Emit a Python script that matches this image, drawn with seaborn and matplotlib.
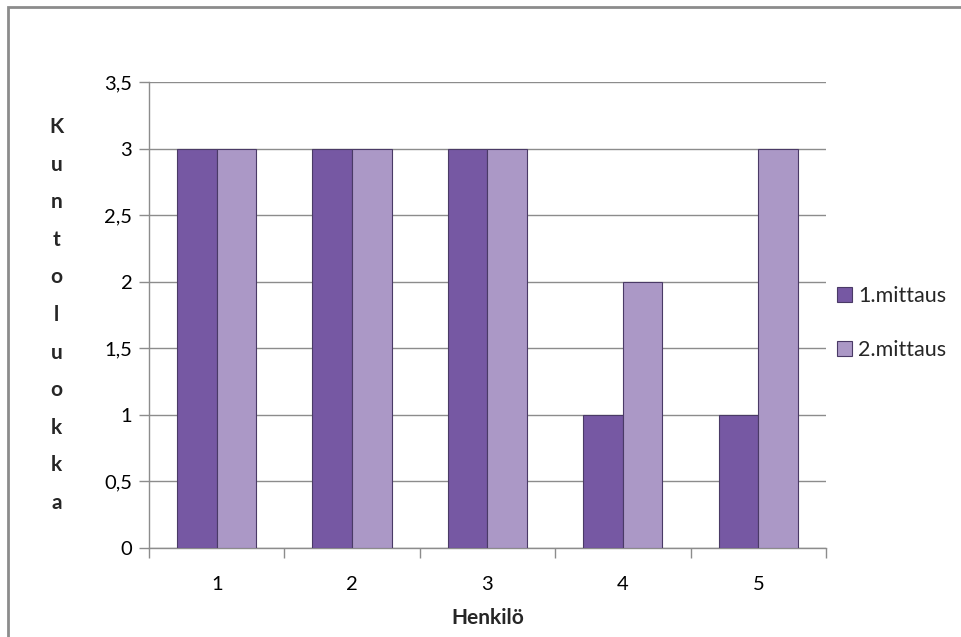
import matplotlib
matplotlib.use("Agg")
import matplotlib.pyplot as plt
import seaborn as sns
import pandas as pd
from matplotlib.ticker import FixedLocator, FuncFormatter
from matplotlib.patches import Rectangle

persons = ["1", "2", "3", "4", "5"]
series_names = ["1.mittaus", "2.mittaus"]
mittaus1 = [3, 3, 3, 1, 1]
mittaus2 = [3, 3, 3, 2, 3]
y_ticks = [0, 0.5, 1, 1.5, 2, 2.5, 3, 3.5]

df = pd.DataFrame({
    "Henkilö": persons * 2,
    "Kuntoluokka": mittaus1 + mittaus2,
    "Sarja": [series_names[0]] * 5 + [series_names[1]] * 5,
})

sns.set_theme(style="white")
plt.rcParams['font.family'] = ['Lato', 'DejaVu Sans']

fig = plt.figure(figsize=(9.62, 6.37), dpi=100)
ax = fig.add_axes([0.1549, 0.1397, 0.8586 - 0.1549, 0.8713 - 0.1397])

palette = {series_names[0]: "#7658a3", series_names[1]: "#ab98c6"}
sns.barplot(data=df, x="Henkilö", y="Kuntoluokka", hue="Sarja", order=persons,
            hue_order=series_names, palette=palette, width=0.585, gap=0,
            edgecolor="#4a3a66", linewidth=0.8, saturation=1, ax=ax, zorder=3)

ax.set_ylim(0, 3.5)
ax.set_xlim(-0.5, 4.5)
ax.yaxis.set_major_locator(FixedLocator(y_ticks))
ax.yaxis.set_major_formatter(FuncFormatter(lambda v, p: ("%g" % v).replace(".", ",")))
ax.grid(axis="y", color="#8c8c8c", linewidth=1.0, zorder=0)
ax.set_axisbelow(True)

for s in ["top", "right"]:
    ax.spines[s].set_visible(False)
for s in ["left", "bottom"]:
    ax.spines[s].set_color("#8c8c8c")
    ax.spines[s].set_linewidth(1.0)

ax.tick_params(axis="y", which="major", left=True, length=7, width=1, color="#8c8c8c",
               labelsize=14.5, labelcolor="black", pad=5)
ax.tick_params(axis="x", which="major", bottom=False, labelsize=14.5, labelcolor="black", pad=14)
ax.set_xticks([i + 0.5 for i in range(-1, 5)], minor=True)
ax.tick_params(axis="x", which="minor", bottom=True, length=7, width=1, color="#8c8c8c")

ax.set_xlabel("Henkilö", fontsize=15, fontweight="bold", labelpad=11)
ax.set_ylabel("\n".join("Kuntoluokka"), fontsize=15, fontweight="bold", rotation=0,
              linespacing=2.1, va="center", ha="center", labelpad=0)
ax.yaxis.set_label_coords(-0.137, 0.5)

handles, labels = ax.get_legend_handles_labels()
ax.legend(handles, labels, loc="center left", bbox_to_anchor=(0.870, 0.493),
          bbox_transform=fig.transFigure, frameon=False, fontsize=15.5,
          handlelength=0.7, handleheight=0.7, handletextpad=0.3, labelspacing=1.55,
          borderpad=0, borderaxespad=0)

fig.patches.append(Rectangle((8 / 962, -0.05), 1.1, 1 - 7 / 637 + 0.05, transform=fig.transFigure,
                             fill=False, edgecolor="#8c8c8c", linewidth=2, zorder=10))

fig.savefig("out.png", dpi=100)
